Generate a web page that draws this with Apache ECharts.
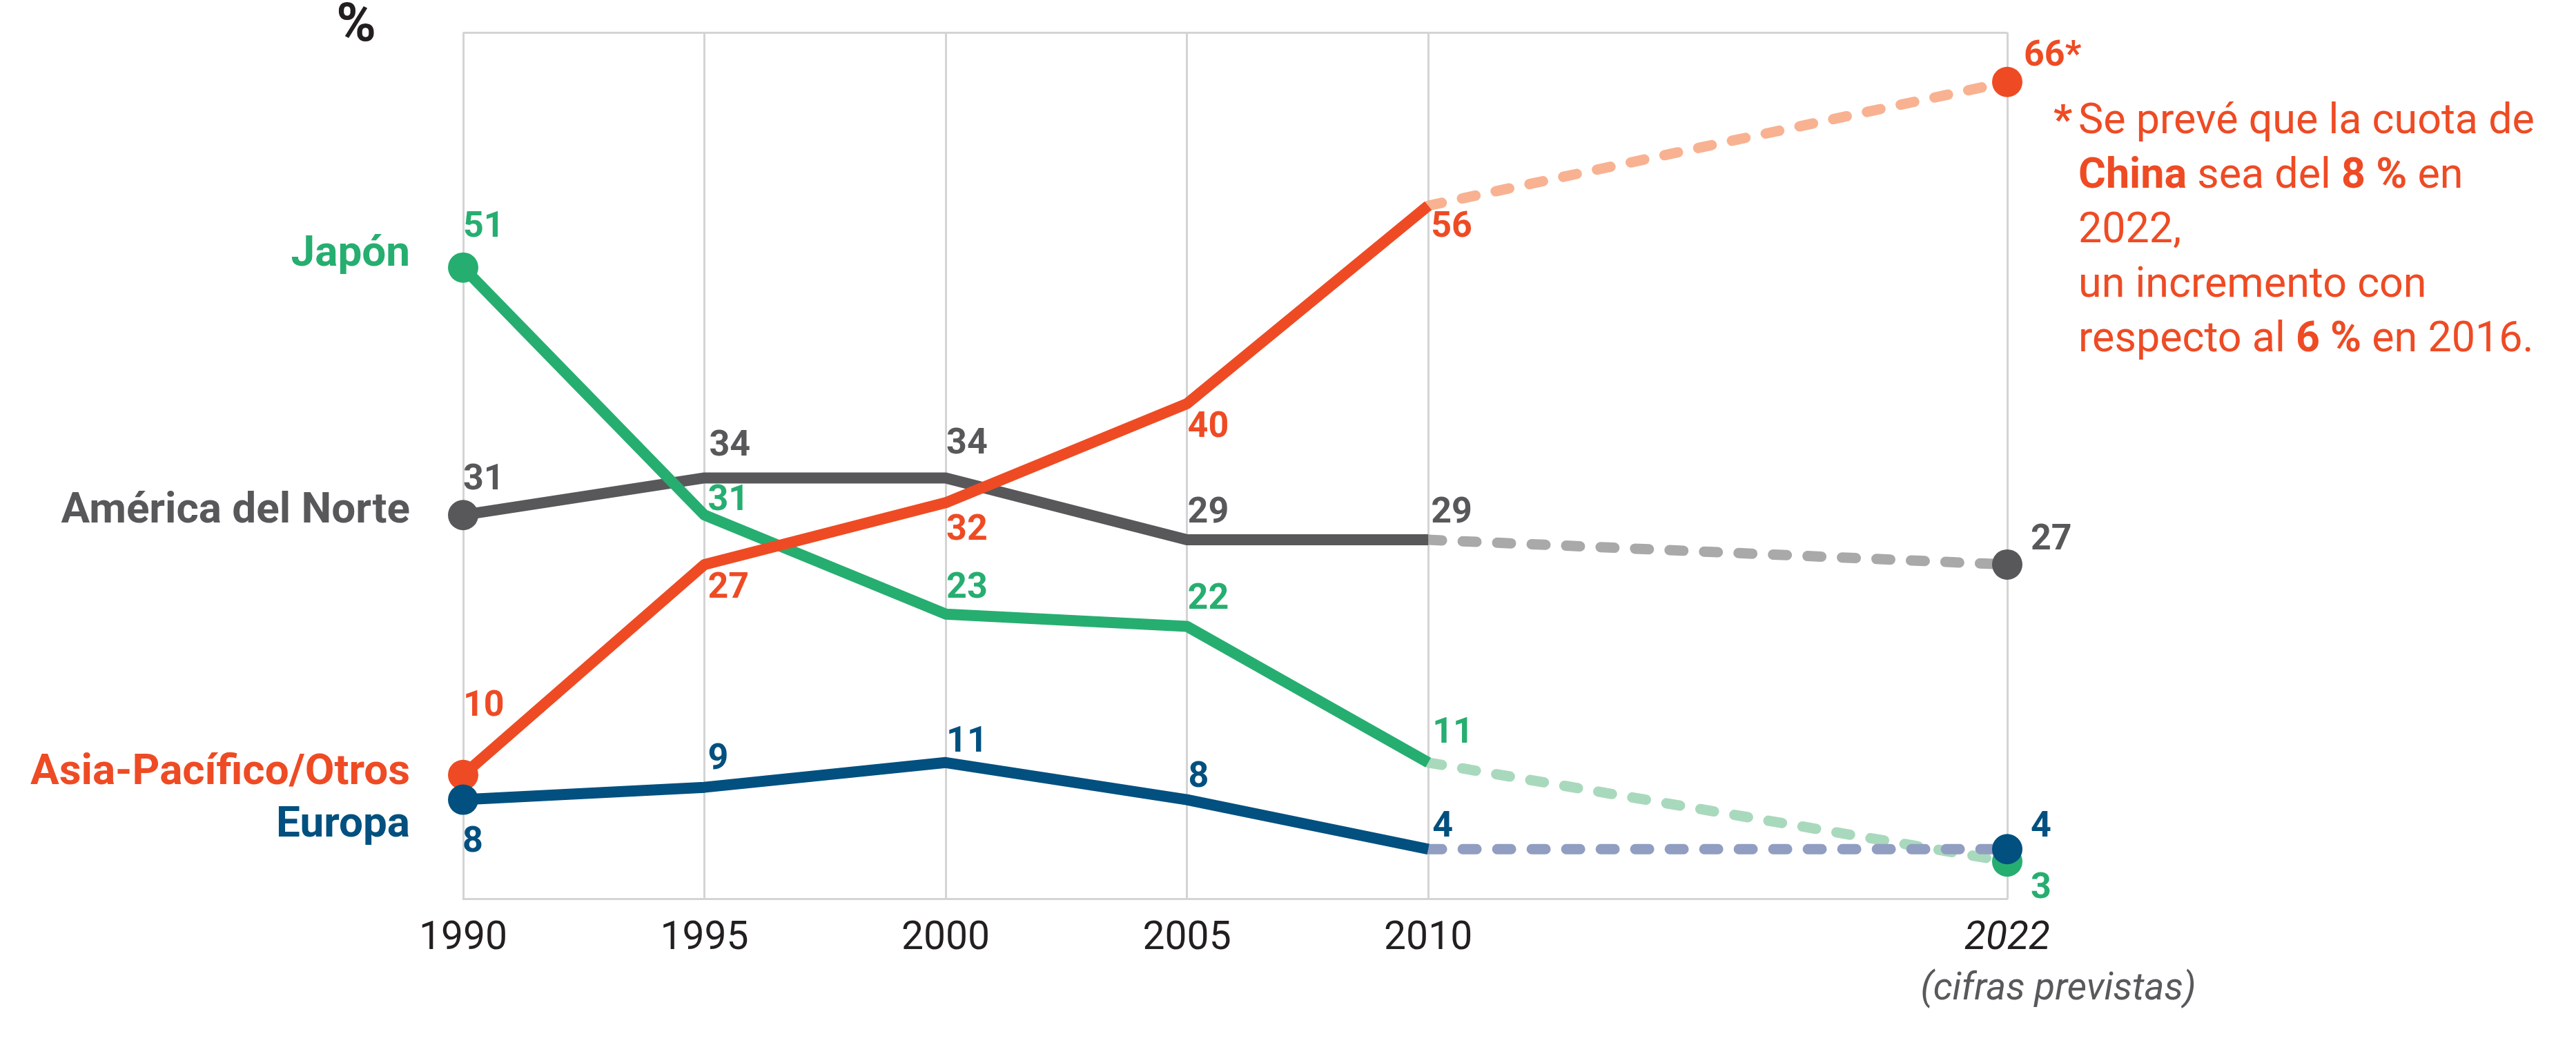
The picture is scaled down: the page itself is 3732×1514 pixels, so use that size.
<!DOCTYPE html>
<html>
<head>
<meta charset="utf-8">
<script src="https://cdn.jsdelivr.net/npm/echarts@6/dist/echarts.min.js"></script>
<style>
html,body{margin:0;padding:0;background:#fff;}
#chart{width:3732px;height:1514px;}
</style>
</head>
<body>
<div id="chart"></div>
<script>
// ---- data ----
const years = [1990, 1995, 2000, 2005, 2010];
const projYear = 2022;
const tickYears = [1990, 1995, 2000, 2005, 2010, 2022];
const seriesNames = ['América del Norte', 'Japón', 'Asia-Pacífico/Otros', 'Europa'];
const norte = [31, 34, 34, 29, 29];
const norteProj = 27;
const japon = [51, 31, 23, 22, 11];
const japonProj = 3;
const asia = [10, 27, 32, 40, 56];
const asiaProj = 66;
const europa = [8, 9, 11, 8, 4];
const europaProj = 4;

// ---- styles ----
const FONT = 'Roboto';
const styles = {
  'América del Norte': {color: '#58585B', light: '#A9A9AA', nameDy: -5,
    offs: [[0,-50],[7,-45],[1,-48],[1,-38],[4,-38]], projOff: [34,-35]},
  'Japón': {color: '#26AE70', light: '#A9D9BD', nameDy: -18,
    offs: [[0,-58],[5,-20],[1,-37],[1,-39],[6,-42]], projOff: [34,40]},
  'Asia-Pacífico/Otros': {color: '#EE4B24', light: '#F8B291', nameDy: -2,
    offs: [[0,-99],[5,35],[1,41],[1,35],[4,32]], projOff: [24,-37], projSuffix: '*'},
  'Europa': {color: '#02507F', light: '#919EC1', nameDy: 38,
    offs: [[-1,62],[5,-40],[1,-29],[2,-32],[6,-31]], projOff: [34,-31]}
};
const values = {'América del Norte': norte, 'Japón': japon, 'Asia-Pacífico/Otros': asia, 'Europa': europa};
const projs = {'América del Norte': norteProj, 'Japón': japonProj, 'Asia-Pacífico/Otros': asiaProj, 'Europa': europaProj};

const baseLabel = {show: true, position: 'inside', align: 'left', verticalAlign: 'middle',
  fontFamily: FONT, fontSize: 52, fontWeight: 'bold'};

const series = [];
// projected dashed series
seriesNames.forEach(name => {
  const st = styles[name];
  const vals = values[name];
  series.push({
    type: 'line', name: name + ' (prev.)', clip: false, silent: true,
    data: [
      {value: [years[years.length-1], vals[vals.length-1]], symbol: 'none'},
      {value: [projYear, projs[name]], symbol: 'circle', symbolSize: 44,
        label: Object.assign({}, baseLabel, {color: st.color, offset: st.projOff,
          formatter: p => p.value[1] + (st.projSuffix || '')})}
    ],
    itemStyle: {color: st.color, opacity: 1},
    lineStyle: {color: st.light, width: 15, type: [20, 30], cap: 'round'},
    label: {show: false},
    emphasis: {disabled: true}
  });
});
// solid series
seriesNames.forEach(name => {
  const st = styles[name];
  const vals = values[name];
  series.push({
    type: 'line', name: name, clip: false, silent: true,
    data: years.map((y, i) => ({
      value: [y, vals[i]], symbol: 'circle', symbolSize: i === 0 ? 44 : 1,
      label: {offset: st.offs[i]}
    })),
    itemStyle: {color: st.color, opacity: 1},
    lineStyle: {color: st.color, width: 16, join: 'round'},
    label: Object.assign({}, baseLabel, {color: st.color, formatter: p => String(p.value[1])}),
    emphasis: {disabled: true}
  });
});
// series name labels at the start
series.push({
  type: 'scatter', silent: true, clip: false, symbolSize: 1,
  itemStyle: {color: 'rgba(255,255,255,0)', opacity: 1},
  data: seriesNames.map(name => ({
    value: [years[0], values[name][0]], name: name,
    label: {show: true, position: 'inside', align: 'right', verticalAlign: 'middle',
      offset: [-77, styles[name].nameDy], color: styles[name].color, opacity: 1,
      fontFamily: FONT, fontSize: 62, fontWeight: 'bold', formatter: p => p.name}
  })),
  emphasis: {disabled: true}
});

const option = {
  animation: false,
  backgroundColor: '#ffffff',
  grid: {left: 671, right: 824, top: 38, bottom: 212, containLabel: false},
  xAxis: {
    type: 'value', min: 1990, max: 2022,
    axisLine: {show: true, lineStyle: {color: '#D4D4D4', width: 3}},
    axisTick: {show: false, customValues: tickYears},
    splitLine: {show: true, lineStyle: {color: '#D4D4D4', width: 3}},
    axisLabel: {
      customValues: tickYears, margin: 26, color: '#231F20',
      fontFamily: FONT, fontSize: 57, lineHeight: 66,
      formatter: v => v === 2022 ? '{i|2022}\n{c|(cifras previstas)}' : String(v),
      rich: {
        i: {fontFamily: FONT, fontSize: 57, fontStyle: 'italic', color: '#231F20', lineHeight: 66},
        c: {fontFamily: FONT, fontSize: 55, fontStyle: 'italic', color: '#58595B', lineHeight: 80,
            padding: [0, 0, 0, 148]}
      }
    }
  },
  yAxis: {
    type: 'value', min: 0, max: 70, interval: 70,
    name: '%', nameLocation: 'end', nameGap: 8,
    nameTextStyle: {fontFamily: FONT, fontSize: 78, fontWeight: 'bold', color: '#231F20',
      align: 'right', verticalAlign: 'middle', padding: [0, 126, 0, 0]},
    axisLine: {show: false}, axisTick: {show: false}, axisLabel: {show: false},
    splitLine: {show: true, lineStyle: {color: '#D4D4D4', width: 3}}
  },
  graphic: [
    {type: 'text', left: 2975, top: 138, silent: true,
      style: {text: '*', fontFamily: FONT, fontSize: 60, fontWeight: 'bold', fill: '#EE4B24', lineHeight: 79}},
    {type: 'text', left: 3011, top: 138, silent: true,
      style: {
        text: '{n|Se prevé que la cuota de}\n{b|China}{n| sea del }{b|8 %}{n| en}\n{n|2022,}\n{n|un incremento con}\n{n|respecto al }{b|6 %}{n| en 2016.}',
        fill: '#EE4B24', fontFamily: FONT, fontSize: 61, lineHeight: 79,
        rich: {
          n: {fontFamily: FONT, fontSize: 61, fill: '#EE4B24', lineHeight: 79},
          b: {fontFamily: FONT, fontSize: 61, fontWeight: 'bold', fill: '#EE4B24', lineHeight: 79}
        }
      }}
  ],
  series: series
};

const chart = echarts.init(document.getElementById('chart'), null, {renderer: 'canvas'});
chart.setOption(option);
</script>
</body>
</html>
